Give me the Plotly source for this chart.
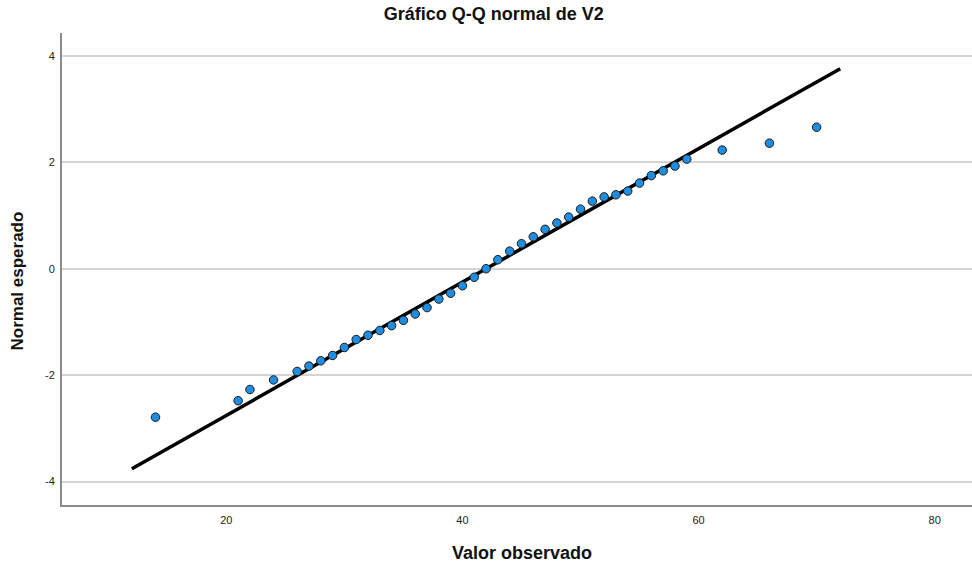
import plotly.graph_objects as go

observed = [14, 21, 22, 24, 26, 27, 28, 29, 30, 31, 32, 33, 34, 35, 36, 37, 38, 39, 40, 41,
            42, 43, 44, 45, 46, 47, 48, 49, 50, 51, 52, 53, 54, 55, 56, 57, 58, 59, 62, 66, 70]
expected = [-2.79, -2.48, -2.27, -2.09, -1.93, -1.83, -1.73, -1.63, -1.48, -1.33, -1.25, -1.16,
            -1.07, -0.97, -0.85, -0.73, -0.57, -0.46, -0.32, -0.16, 0.0, 0.17, 0.33, 0.47, 0.60,
            0.74, 0.86, 0.97, 1.12, 1.27, 1.35, 1.39, 1.46, 1.61, 1.75, 1.84, 1.93, 2.06, 2.23,
            2.36, 2.66]
line_x = [12, 72]
line_y = [-3.76, 3.76]

x_ticks = [20, 40, 60, 80]
y_ticks = [-4, -2, 0, 2, 4]
y_tick_labels = ["-4", "-2", "0", "2", "4"]

fig = go.Figure()
fig.add_trace(go.Scatter(x=line_x, y=line_y, mode="lines",
                         line=dict(color="black", width=3.5), showlegend=False, hoverinfo="skip"))
fig.add_trace(go.Scatter(x=observed, y=expected, mode="markers",
                         marker=dict(size=8.5, color="#1f8ee0", line=dict(color="#1a1a1a", width=1)),
                         showlegend=False))

font = "Liberation Sans, Arial, sans-serif"
fig.update_layout(
    width=972, height=564,
    margin=dict(l=62, r=0, t=33, b=59),
    paper_bgcolor="white", plot_bgcolor="white",
    font=dict(family=font, size=11, color="#222"),
    title=dict(text="<b>Gráfico Q-Q normal de V2</b>", x=0.508, xanchor="center",
               y=0.975, yanchor="middle", font=dict(family=font, size=18, color="#111")),
    xaxis=dict(range=[6.08, 83.16], tickvals=x_ticks, showgrid=False, zeroline=False,
               showline=True, linecolor="#8c8c8c", linewidth=2, ticks="outside", ticklen=4,
               tickcolor="rgba(0,0,0,0)"),
    yaxis=dict(range=[-4.44, 4.43], tickvals=y_ticks, ticktext=y_tick_labels,
               showgrid=True, gridcolor="#d4d4d4",
               gridwidth=1.5, zeroline=False,
               showline=True, linecolor="#8c8c8c", linewidth=2, ticks="outside", ticklen=3,
               tickcolor="rgba(0,0,0,0)"),
    annotations=[
        dict(text="<b>Valor observado</b>", xref="paper", yref="paper", x=0.5055, y=0,
             yshift=-48, xanchor="center", yanchor="middle", showarrow=False,
             font=dict(family=font, size=18, color="#111")),
        dict(text="<b>Normal esperado</b>", xref="paper", yref="paper", x=0, y=0.4735,
             xshift=-44, xanchor="center", yanchor="middle", textangle=-90, showarrow=False,
             font=dict(family=font, size=17, color="#111")),
    ],
)
fig.write_html("out.html")
